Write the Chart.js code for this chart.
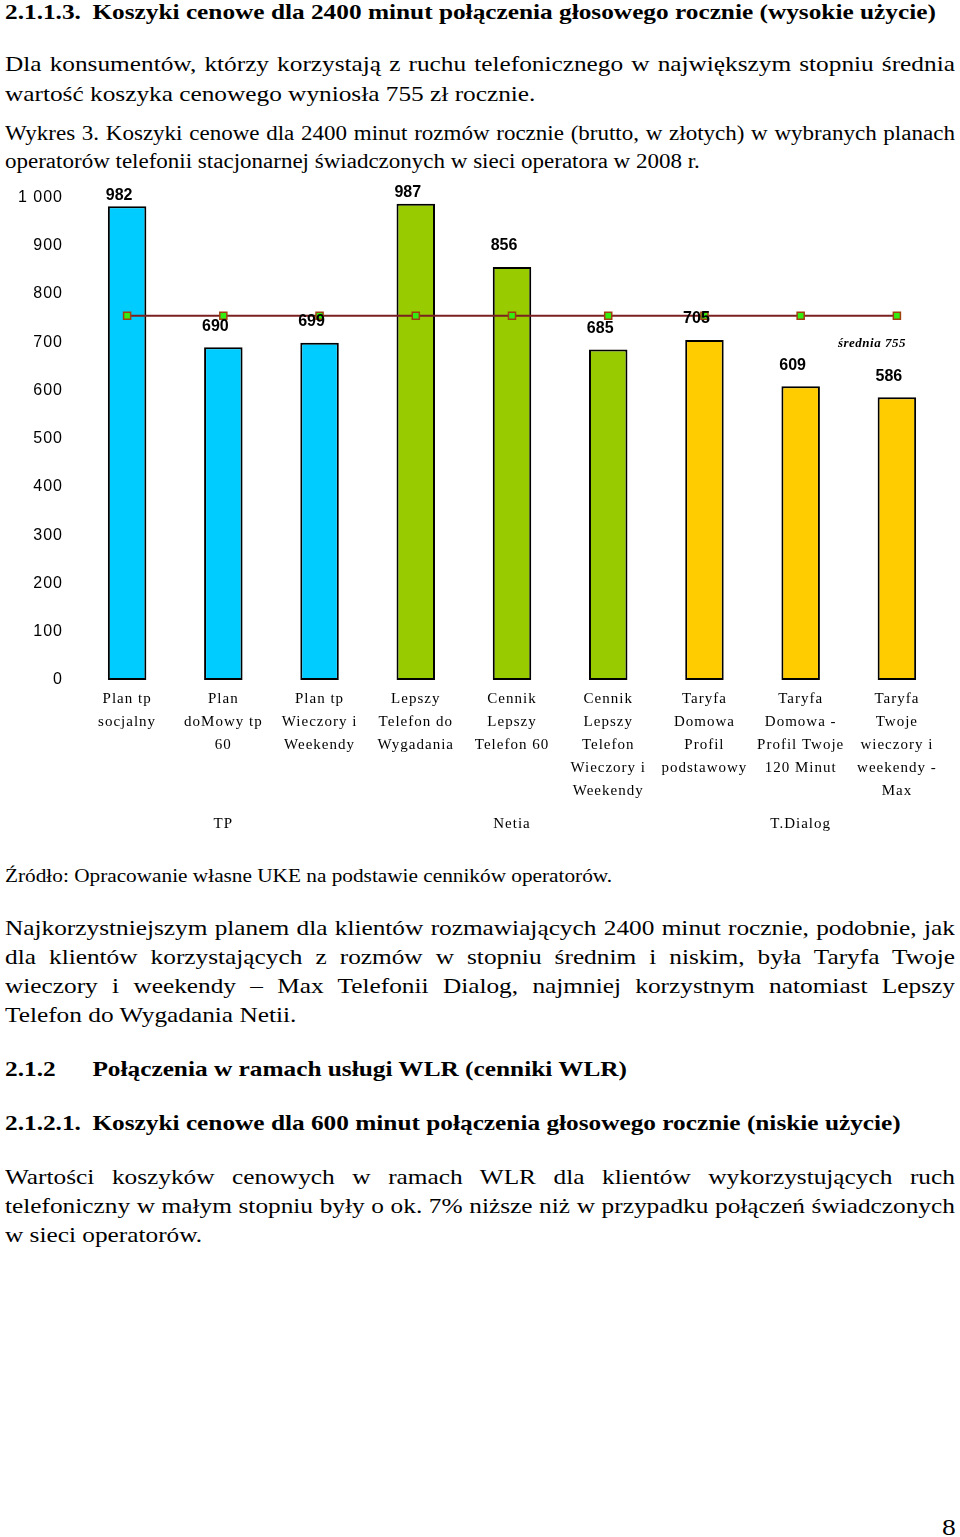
<!DOCTYPE html>
<html>
<head>
<meta charset="utf-8">
<script src="https://cdn.jsdelivr.net/npm/chart.js@4/dist/chart.umd.min.js"></script>
<style>
    html, body { margin: 0; padding: 0; background: #fff; }
    body { width: 960px; height: 1537px; position: relative; overflow: hidden;
           font-family: "Liberation Serif", "Times New Roman", serif; color: #000; }
    /* tekst strony jest w oryginale lekko rozciągnięty w poziomie */
    .blk { position: absolute; left: 5px; width: 826px; transform: scaleX(1.15); transform-origin: left top; }
    .just { text-align: justify; }
    .bold { font-weight: bold; }
    .num { display: inline-block; width: 76px; }
    #chart-box { position: absolute; left: 0; top: 180px; width: 960px; height: 660px; }
</style>
</head>
<body>
<div class="blk bold" style="top:0; font-size:22px; line-height:24px;"><span class="num">2.1.1.3.</span>Koszyki cenowe dla 2400 minut połączenia głosowego rocznie (wysokie użycie)</div>
<div class="blk just" style="top:49px; font-size:22px; line-height:30px;">Dla konsumentów, którzy korzystają z ruchu telefonicznego w największym stopniu średnia wartość koszyka cenowego wyniosła 755 zł rocznie.</div>
<div class="blk just" style="top:119px; font-size:20px; line-height:28px;">Wykres 3. Koszyki cenowe dla 2400 minut rozmów rocznie (brutto, w złotych) w wybranych planach operatorów telefonii stacjonarnej świadczonych w sieci operatora w 2008 r.</div>

<div id="chart-box"><canvas id="chart"></canvas></div>

<div class="blk" style="top:864px; font-size:18.5px; line-height:24px;">Źródło: Opracowanie własne UKE na podstawie cenników operatorów.</div>
<div class="blk just" style="top:913px; font-size:22px; line-height:29px;">Najkorzystniejszym planem dla klientów rozmawiających 2400 minut rocznie, podobnie, jak dla klientów korzystających z rozmów w stopniu średnim i niskim, była Taryfa Twoje wieczory i weekendy – Max Telefonii Dialog, najmniej korzystnym natomiast Lepszy Telefon do Wygadania Netii.</div>
<div class="blk bold" style="top:1057px; font-size:22px; line-height:24px;"><span class="num">2.1.2</span>Połączenia w ramach usługi WLR (cenniki WLR)</div>
<div class="blk bold" style="top:1111px; font-size:22px; line-height:24px;"><span class="num">2.1.2.1.</span>Koszyki cenowe dla 600 minut połączenia głosowego rocznie (niskie użycie)</div>
<div class="blk just" style="top:1162px; font-size:22px; line-height:29px;">Wartości koszyków cenowych w ramach WLR dla klientów wykorzystujących ruch telefoniczny w małym stopniu były o ok. 7% niższe niż w przypadku połączeń świadczonych w sieci operatorów.</div>
<div style="position:absolute; right:5px; top:1513px; font-size:24px; line-height:28px; transform:scaleX(1.15);">8</div>

<script>
// dane
const planLabels = [
    ['Plan tp', 'socjalny'],
    ['Plan', 'doMowy tp', '60'],
    ['Plan tp', 'Wieczory i', 'Weekendy'],
    ['Lepszy', 'Telefon do', 'Wygadania'],
    ['Cennik', 'Lepszy', 'Telefon 60'],
    ['Cennik', 'Lepszy', 'Telefon', 'Wieczory i', 'Weekendy'],
    ['Taryfa', 'Domowa', 'Profil', 'podstawowy'],
    ['Taryfa', 'Domowa -', 'Profil Twoje', '120 Minut'],
    ['Taryfa', 'Twoje', 'wieczory i', 'weekendy -', 'Max'],
];
const operatorLabels = ['', 'TP', '', '', 'Netia', '', '', 'T.Dialog', ''];
const basketValues = [982, 690, 699, 987, 856, 685, 705, 609, 586];
const averageValues = [755, 755, 755, 755, 755, 755, 755, 755, 755];
const averageLabel = 'średnia 755';

const BLUE = '#00CCFF', GREEN = '#99CC00', YELLOW = '#FFCC00';
const barColors = [BLUE, BLUE, BLUE, GREEN, GREEN, GREEN, YELLOW, YELLOW, YELLOW];

const SANS = '"Liberation Sans", Arial, sans-serif';
const SERIF = '"Liberation Serif", "Times New Roman", serif';

// rozstrzelone litery na osiach, jak w oryginale
const spacingPlugin = {
    id: 'spacing',
    beforeDraw(chart) { chart.ctx.letterSpacing = '1px'; },
};

// etykiety wartości nad słupkami + podpis średniej
const labelsPlugin = {
    id: 'barLabels',
    afterDatasetsDraw(chart) {
        const ctx = chart.ctx;
        const meta = chart.getDatasetMeta(0);
        ctx.save();
        ctx.letterSpacing = '0px';
        ctx.font = 'bold 16px ' + SANS;
        ctx.fillStyle = '#000';
        ctx.textAlign = 'center';
        ctx.textBaseline = 'middle';
        meta.data.forEach((bar, i) => {
            const off = bar.y < chart.chartArea.top + 20 ? 11 : 21;
            ctx.fillText(basketValues[i], bar.x - 8, bar.y - off);
        });
        const line = chart.getDatasetMeta(1).data;
        const last = line[line.length - 1];
        ctx.font = 'italic bold 13px ' + SERIF;
        ctx.letterSpacing = '0.5px';
        ctx.fillText(averageLabel, last.x - 25, last.y + 28);
        ctx.restore();
    }
};

new Chart(document.getElementById('chart'), {
    data: {
        labels: planLabels,
        datasets: [
            {
                type: 'bar',
                data: basketValues,
                backgroundColor: barColors,
                borderColor: '#000',
                borderWidth: 2,
                borderSkipped: false,
                barPercentage: 0.4,
                categoryPercentage: 1,
                order: 2,
            },
            {
                type: 'line',
                data: averageValues,
                borderColor: '#7A2020',
                borderWidth: 2,
                pointStyle: 'rect',
                pointRadius: 5,
                pointBackgroundColor: '#33EE11',
                pointBorderColor: '#A04010',
                pointBorderWidth: 1.5,
                order: 1,
            },
        ],
    },
    options: {
        responsive: true,
        maintainAspectRatio: false,
        animation: false,
        layout: { padding: { top: 5, right: 15, left: 0, bottom: 0 } },
        plugins: {
            legend: { display: false },
            tooltip: { enabled: false },
        },
        scales: {
            x: {
                grid: { display: false },
                border: { display: false },
                ticks: {
                    color: '#000',
                    font: { family: SERIF, size: 15, lineHeight: 1.53 },
                    padding: 0,
                    maxRotation: 0,
                    autoSkip: false,
                },
                afterFit: s => { s.height = 125; },
            },
            x2: {
                type: 'category',
                position: 'bottom',
                offset: true,
                labels: operatorLabels,
                grid: { display: false },
                border: { display: false },
                ticks: {
                    color: '#000',
                    font: { family: SERIF, size: 15 },
                    padding: 2,
                    maxRotation: 0,
                    autoSkip: false,
                },
                afterFit: s => { s.height = 35; },
            },
            y: {
                min: 0,
                max: 1000,
                grid: { display: false },
                border: { display: false },
                ticks: {
                    stepSize: 100,
                    color: '#000',
                    padding: 8,
                    font: { family: SANS, size: 16 },
                    callback: v => v >= 1000 ? String(v).replace(/\B(?=(\d{3})+(?!\d))/g, ' ') : v,
                },
                afterFit: s => { s.width = 79; },
            },
        },
    },
    plugins: [spacingPlugin, labelsPlugin],
});
</script>
</body>
</html>
